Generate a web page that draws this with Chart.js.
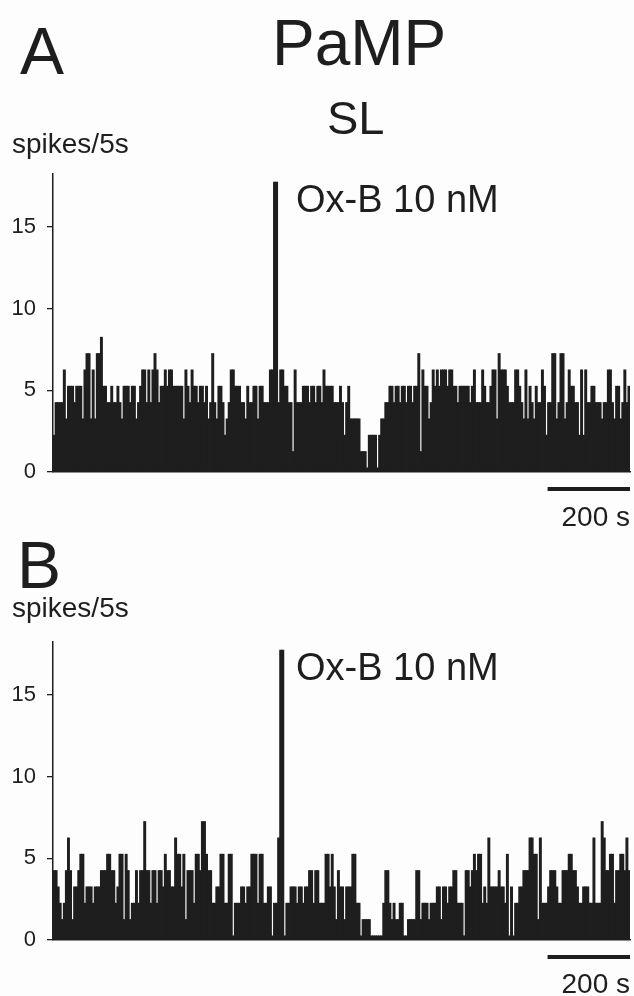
<!DOCTYPE html>
<html>
<head>
<meta charset="utf-8">
<title>PaMP SL - spikes/5s</title>
<script src="https://cdn.jsdelivr.net/npm/chart.js@4.4.1/dist/chart.umd.min.js"></script>
<style>
  html, body { margin: 0; padding: 0; background: #fdfdfd; }
  #wrap { position: relative; width: 634px; height: 996px; overflow: hidden; }
  canvas { position: absolute; left: 0; }
</style>
</head>
<body>
<div id="wrap">
  <canvas id="panelA" width="634" height="535" style="top:0"></canvas>
  <canvas id="panelB" width="634" height="461" style="top:535px"></canvas>
</div>
<script>
// spikes per 5 s bin (280 bins = 1400 s)
const countsA = [
  2, 4, 4, 4, 4, 6, 3, 5, 5, 5,   4, 5, 5, 5, 3, 6, 7, 7, 3, 6,
  3, 7, 7, 8, 5, 5, 4, 4, 5, 4,   4, 5, 4, 3, 5, 5, 5, 4, 5, 5,
  3, 4, 5, 6, 6, 4, 6, 4, 6, 7,   6, 4, 5, 5, 6, 5, 6, 6, 5, 5,
  5, 5, 5, 3, 6, 5, 4, 6, 5, 5,   4, 5, 5, 4, 5, 3, 4, 7, 4, 3,
  5, 5, 4, 2, 3, 4, 6, 6, 5, 5,   5, 4, 4, 3, 5, 4, 4, 5, 5, 3,
  5, 5, 4, 4, 4, 6, 6, 17.5, 17.5, 4,   6, 6, 5, 5, 4, 4, 1, 6, 4, 4,
  4, 5, 5, 5, 4, 5, 5, 4, 5, 5,   4, 6, 5, 5, 5, 5, 4, 4, 4, 5,
  4, 2, 4, 5, 3, 3, 3, 3, 3, 1,   1, 1, 0, 2, 2, 2, 2, 0, 2, 3,
  3, 4, 4, 5, 5, 4, 5, 5, 4, 5,   5, 4, 5, 5, 4, 5, 5, 7, 1, 6,
  5, 5, 3, 4, 6, 5, 6, 5, 6, 6,   6, 5, 6, 6, 5, 5, 4, 5, 5, 5,
  5, 5, 4, 5, 6, 4, 4, 4, 6, 5,   4, 4, 5, 6, 6, 3, 7, 6, 6, 6,
  5, 4, 4, 4, 6, 6, 5, 4, 3, 6,   3, 5, 4, 3, 5, 4, 4, 6, 5, 2,
  4, 4, 7, 7, 3, 4, 7, 7, 3, 4,   6, 5, 5, 4, 4, 2, 6, 2, 6, 4,
  4, 5, 5, 4, 4, 4, 3, 4, 4, 6,   6, 4, 3, 5, 5, 3, 4, 6, 4, 5
];
const countsB = [
  4, 4, 3, 2, 1, 2, 4, 6, 4, 1,   3, 3, 4, 5, 5, 2, 3, 3, 3, 2,
  3, 3, 3, 4, 4, 4, 5, 5, 4, 4,   2, 3, 5, 5, 1, 5, 4, 1, 2, 2,
  4, 2, 4, 4, 7, 4, 4, 2, 4, 4,   2, 4, 4, 3, 5, 4, 4, 3, 3, 6,
  5, 5, 3, 5, 1, 4, 4, 4, 2, 5,   5, 4, 7, 7, 5, 4, 4, 2, 2, 3,
  3, 5, 5, 2, 2, 5, 5, 0, 2, 2,   2, 3, 3, 2, 3, 3, 5, 5, 5, 2,
  5, 5, 2, 2, 3, 3, 0, 2, 2, 6,   17.5, 17.5, 0, 2, 2, 3, 3, 3, 2, 3,
  3, 2, 3, 3, 4, 4, 2, 4, 4, 2,   2, 2, 5, 5, 3, 5, 3, 1, 4, 3,
  3, 1, 3, 3, 3, 5, 5, 2, 2, 0,   1, 1, 1, 1, 0, 0, 0, 0, 0, 0,
  2, 4, 4, 2, 1, 2, 1, 1, 2, 2,   0, 0, 1, 1, 1, 1, 4, 4, 1, 2,
  2, 2, 1, 2, 2, 2, 3, 3, 1, 3,   3, 2, 3, 3, 4, 4, 2, 2, 2, 0,
  4, 4, 3, 4, 5, 4, 5, 5, 2, 3,   2, 6, 3, 3, 3, 3, 4, 3, 3, 2,
  5, 0, 3, 0, 2, 2, 3, 3, 4, 4,   4, 6, 6, 5, 5, 1, 6, 2, 2, 2,
  3, 4, 4, 4, 3, 2, 2, 4, 4, 4,   5, 5, 4, 4, 3, 2, 2, 3, 3, 3,
  2, 2, 6, 2, 2, 2, 7, 6, 4, 4,   5, 5, 2, 4, 4, 5, 5, 4, 6, 4
];
const yTicks = [0, 5, 10, 15];
const BIN_S = 5;          // bin width, s
const SCALE_BAR_S = 200;  // time scale bar, s
const BAR_LIFT = 0.25;    // in the figure bars sit slightly above their tick level
const Y_TOP = 18;

const INK = "#1e1e1e";
const FONT = "'Liberation Sans', Arial, Helvetica, sans-serif";

Chart.defaults.font.family = FONT;
Chart.defaults.color = INK;

// panel letters, titles, drug label and the 200 s scale bar
const decorPlugin = {
  id: "decor",
  afterDraw(chart, args, opts) {
    const { ctx, chartArea } = chart;
    ctx.save();
    ctx.fillStyle = INK;
    ctx.textBaseline = "alphabetic";
    (opts.texts || []).forEach((t) => {
      ctx.font = t.size + "px " + FONT;
      ctx.textAlign = t.align || "left";
      ctx.fillText(t.text, t.x, t.y);
    });

    const n = chart.data.labels.length;
    const binW = (chartArea.right - chartArea.left) / n;
    const barLen = (SCALE_BAR_S / BIN_S) * binW;
    ctx.fillRect(chartArea.right - barLen, chartArea.bottom + 15, barLen, 4);
    ctx.font = "28px " + FONT;
    ctx.textAlign = "right";
    ctx.fillText(SCALE_BAR_S + " s", chartArea.right, chartArea.bottom + opts.scaleLabelGap);
    ctx.restore();
  },
};

function makePanel(id, counts, padding, texts, scaleLabelGap) {
  const binStart = counts.map((_, i) => i * BIN_S);
  return new Chart(document.getElementById(id), {
    type: "bar",
    data: {
      labels: binStart,
      datasets: [
        {
          data: counts,
          base: -BAR_LIFT,
          backgroundColor: INK,
          borderWidth: 0,
          inflateAmount: 0.45, // close the hairline seams between neighbouring bins
          barPercentage: 1,
          categoryPercentage: 1,
        },
      ],
    },
    options: {
      responsive: false,
      animation: false,
      devicePixelRatio: 1,
      layout: { padding: padding },
      plugins: {
        legend: { display: false },
        tooltip: { enabled: false },
        decor: { texts: texts, scaleLabelGap: scaleLabelGap },
      },
      scales: {
        x: {
          ticks: { display: false },
          grid: { display: false, drawTicks: false },
          border: { display: true, color: INK, width: 1.5 },
        },
        y: {
          min: -BAR_LIFT,
          max: Y_TOP,
          afterBuildTicks: (axis) => {
            axis.ticks = yTicks.map((v) => ({ value: v - BAR_LIFT }));
          },
          afterFit: (axis) => {
            axis.width = 53;
          },
          ticks: {
            font: { size: 22 },
            color: INK,
            padding: 11,
            callback: (v) => Math.round(v + BAR_LIFT),
          },
          grid: {
            drawOnChartArea: false,
            drawTicks: true,
            tickLength: 6,
            color: INK,
            lineWidth: 1.3,
          },
          border: { display: true, color: INK, width: 1.5 },
        },
      },
    },
    plugins: [decorPlugin],
  });
}

makePanel(
  "panelA",
  countsA,
  { top: 174, bottom: 63, left: 0, right: 4 },
  [
    { text: "A", x: 20, y: 74, size: 66 },
    { text: "PaMP", x: 272, y: 65, size: 64 },
    { text: "SL", x: 327, y: 134, size: 47 },
    { text: "spikes/5s", x: 12, y: 153, size: 28 },
    { text: "Ox-B 10 nM", x: 296, y: 212, size: 38 },
  ],
  54
);

makePanel(
  "panelB",
  countsB,
  { top: 107, bottom: 56, left: 0, right: 4 },
  [
    { text: "B", x: 17, y: 53, size: 66 },
    { text: "spikes/5s", x: 12, y: 82, size: 28 },
    { text: "Ox-B 10 nM", x: 296, y: 145, size: 38 },
  ],
  53
);
</script>
</body>
</html>
